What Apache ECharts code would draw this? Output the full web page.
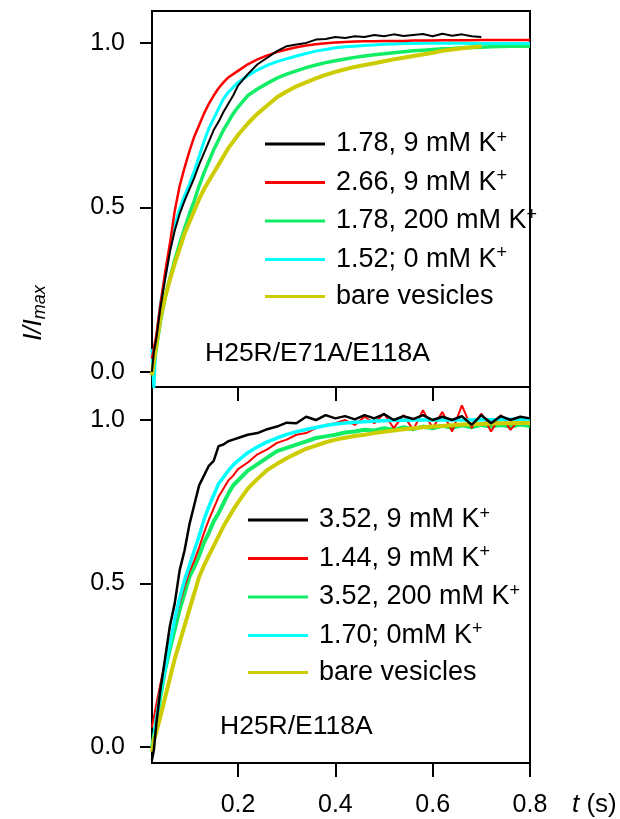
<!DOCTYPE html>
<html>
<head>
<meta charset="utf-8">
<script src="https://cdn.jsdelivr.net/npm/echarts@6/dist/echarts.min.js"></script>
<style>
  html, body { margin: 0; padding: 0; background: #fff; }
  #chart { width: 620px; height: 819px; }
</style>
</head>
<body>
<div id="chart"></div>
<script>
// time grid (s), shared by every trace
const timeS = [0.023, 0.027, 0.032, 0.04, 0.05, 0.06, 0.07, 0.08, 0.09, 0.10,
  0.11, 0.12, 0.13, 0.14, 0.15, 0.16, 0.17, 0.18, 0.19, 0.20,
  0.22, 0.24, 0.26, 0.28, 0.30, 0.32, 0.34, 0.36, 0.38, 0.40,
  0.42, 0.44, 0.46, 0.48, 0.50, 0.52, 0.54, 0.56, 0.58, 0.60,
  0.62, 0.64, 0.66, 0.68, 0.70, 0.72, 0.74, 0.76, 0.78, 0.80];

// top panel: H25R/E71A/E118A
const topBlack = [0.0, 0.06, 0.10, 0.19, 0.28, 0.365, 0.43, 0.48, 0.52, 0.555,
  0.59, 0.63, 0.665, 0.70, 0.735, 0.76, 0.79, 0.815, 0.84, 0.87,
  0.905, 0.935, 0.955, 0.975, 0.99, 0.995, 1.0, 1.01, 1.012, 1.018,
  1.015, 1.02, 1.018, 1.024, 1.02, 1.026, 1.021, 1.024, 1.027, 1.02,
  1.028, 1.022, 1.026, 1.02, 1.018];
const topRed = [0.04, 0.07, 0.11, 0.20, 0.30, 0.39, 0.49, 0.565, 0.62, 0.67,
  0.715, 0.75, 0.785, 0.815, 0.84, 0.862, 0.88, 0.895, 0.905, 0.915,
  0.935, 0.95, 0.962, 0.972, 0.98, 0.987, 0.992, 0.996, 0.999, 1.001,
  1.003, 1.004, 1.005, 1.005, 1.006, 1.006, 1.006, 1.007, 1.007, 1.007,
  1.008, 1.008, 1.008, 1.008, 1.009, 1.009, 1.009, 1.009, 1.009, 1.009];
const topGreen = [-0.01, 0.02, 0.07, 0.15, 0.225, 0.285, 0.34, 0.39, 0.435, 0.48,
  0.52, 0.565, 0.605, 0.64, 0.675, 0.705, 0.735, 0.76, 0.785, 0.805,
  0.84, 0.86, 0.877, 0.893, 0.905, 0.915, 0.925, 0.933, 0.94, 0.946,
  0.951, 0.956, 0.96, 0.964, 0.967, 0.97, 0.973, 0.976, 0.978, 0.98,
  0.982, 0.983, 0.985, 0.986, 0.987, 0.988, 0.989, 0.99, 0.99, 0.99];
const topCyan = [0.07, -0.05, 0.10, 0.20, 0.29, 0.375, 0.445, 0.495, 0.535, 0.57,
  0.61, 0.655, 0.70, 0.74, 0.77, 0.80, 0.83, 0.85, 0.865, 0.88,
  0.90, 0.918, 0.932, 0.943, 0.952, 0.96, 0.968, 0.975, 0.98, 0.985,
  0.988, 0.99, 0.992, 0.994, 0.996, 0.997, 0.998, 0.998, 0.999, 0.999,
  0.999, 0.999, 0.999, 0.998, 0.998, 0.998, 0.998, 0.998, 0.998, 0.998];
const topYellow = [-0.01, 0.03, 0.08, 0.16, 0.225, 0.28, 0.33, 0.375, 0.42, 0.455,
  0.49, 0.525, 0.555, 0.58, 0.605, 0.63, 0.655, 0.68, 0.70, 0.72,
  0.755, 0.785, 0.81, 0.835, 0.852, 0.868, 0.88, 0.892, 0.903, 0.912,
  0.92, 0.927, 0.933, 0.938, 0.944, 0.95, 0.955, 0.96, 0.965, 0.97,
  0.976, 0.98, 0.984, 0.987, 0.99];

// bottom panel: H25R/E118A
const botBlack = [-0.04, -0.01, 0.07, 0.17, 0.27, 0.37, 0.44, 0.54, 0.60, 0.68,
  0.74, 0.80, 0.83, 0.86, 0.875, 0.92, 0.925, 0.935, 0.94, 0.945,
  0.955, 0.96, 0.972, 0.98, 0.992, 0.99, 1.01, 1.0, 1.015, 1.005,
  1.012, 1.002, 1.015, 1.005, 1.018, 1.0, 1.012, 1.003, 1.015, 1.0,
  1.01, 1.0, 1.012, 0.985, 1.015, 0.99, 1.012, 1.0, 1.01, 1.005];
const botRed = [0.06, 0.09, 0.13, 0.19, 0.26, 0.32, 0.38, 0.44, 0.49, 0.535,
  0.57, 0.61, 0.655, 0.695, 0.73, 0.765, 0.79, 0.815, 0.83, 0.85,
  0.87, 0.895, 0.91, 0.93, 0.94, 0.955, 0.96, 0.975, 0.985, 0.99,
  1.0, 0.985, 1.01, 0.99, 1.02, 0.975, 1.015, 0.97, 1.03, 0.975,
  1.025, 0.965, 1.045, 0.975, 1.02, 0.965, 1.015, 0.97, 1.005, 0.985];
const botGreen = [0.0, 0.03, 0.075, 0.15, 0.235, 0.30, 0.36, 0.42, 0.47, 0.52,
  0.55, 0.585, 0.625, 0.655, 0.69, 0.715, 0.745, 0.775, 0.80, 0.815,
  0.845, 0.865, 0.885, 0.905, 0.915, 0.925, 0.935, 0.945, 0.95, 0.955,
  0.962, 0.965, 0.97, 0.968, 0.975, 0.97, 0.978, 0.972, 0.98, 0.975,
  0.982, 0.976, 0.984, 0.978, 0.985, 0.98, 0.985, 0.98, 0.986, 0.982];
const botCyan = [0.0, 0.02, 0.08, 0.16, 0.24, 0.315, 0.39, 0.455, 0.51, 0.555,
  0.60, 0.645, 0.695, 0.735, 0.77, 0.805, 0.825, 0.845, 0.862, 0.876,
  0.90, 0.918, 0.933, 0.945, 0.956, 0.964, 0.971, 0.977, 0.983, 0.988,
  0.991, 0.993, 0.995, 0.997, 0.998, 0.999, 0.999, 1.0, 1.0, 1.0,
  1.0, 1.0, 1.0, 1.0, 1.001, 1.001, 1.001, 1.002, 1.002, 1.003];
const botYellow = [-0.015, 0.02, 0.045, 0.09, 0.15, 0.21, 0.27, 0.32, 0.37, 0.42,
  0.47, 0.52, 0.555, 0.585, 0.615, 0.645, 0.675, 0.70, 0.725, 0.748,
  0.79, 0.82, 0.847, 0.866, 0.883, 0.898, 0.912, 0.922, 0.932, 0.94,
  0.946, 0.951, 0.955, 0.96, 0.964, 0.968, 0.972, 0.975, 0.978, 0.98,
  0.982, 0.984, 0.986, 0.987, 0.988, 0.989, 0.99, 0.99, 0.991, 0.991];

const topNames = ["1.78, 9 mM K+", "2.66, 9 mM K+", "1.78, 200 mM K+", "1.52; 0 mM K+", "bare vesicles"];
const botNames = ["3.52, 9 mM K+", "1.44, 9 mM K+", "3.52, 200 mM K+", "1.70; 0mM K+", "bare vesicles"];
const xTicks = [0.2, 0.4, 0.6, 0.8];
const yTicks = [0, 0.5, 1.0];

const FONT = '"Liberation Sans", Arial, sans-serif';
const BLACK = "#000000", RED = "#ff0000", GREEN = "#11ee66", CYAN = "#00ffff", YELLOW = "#cccc00";

const toPairs = (vals) => vals.map((v, i) => [timeS[i], v]);

const makeLine = (name, vals, color, width, idx) => ({
  name: name,
  type: "line",
  xAxisIndex: idx,
  yAxisIndex: idx,
  data: toPairs(vals),
  showSymbol: false,
  symbol: "none",
  color: color,
  lineStyle: { color: color, width: width },
  emphasis: { disabled: true },
});

const xAxisOf = (idx, showLabel) => ({
  type: "value",
  gridIndex: idx,
  min: 0.0232,
  max: 0.8,
  axisLine: { show: true, onZero: false, lineStyle: { color: "#000", width: 2 } },
  axisTick: { show: true, customValues: xTicks, length: 14, lineStyle: { color: "#000", width: 2 } },
  axisLabel: {
    show: showLabel,
    customValues: xTicks,
    margin: 30,
    fontSize: 25,
    fontFamily: FONT,
    color: "#000",
    formatter: (v) => v.toFixed(1),
  },
  splitLine: { show: false },
});

const yAxisOf = (idx, min, max) => ({
  type: "value",
  gridIndex: idx,
  min: min,
  max: max,
  axisLine: { show: true, onZero: false, lineStyle: { color: "#000", width: 2 } },
  axisTick: { show: true, customValues: yTicks, length: 12, lineStyle: { color: "#000", width: 2 } },
  axisLabel: {
    customValues: yTicks,
    margin: 27,
    fontSize: 25,
    fontFamily: FONT,
    color: "#000",
    formatter: (v) => v.toFixed(1),
  },
  splitLine: { show: false },
});

const legendOf = (names, left, top) => ({
  orient: "vertical",
  left: left,
  top: top,
  data: names,
  icon: "rect",
  itemWidth: 60,
  itemHeight: 3,
  itemGap: 10,
  selectedMode: false,
  formatter: (name) =>
    name.endsWith("+") ? "{a|" + name.slice(0, -1) + "}{s|+}" : "{a|" + name + "}",
  textStyle: {
    padding: [0, 0, 0, 6],
    rich: {
      a: { fontSize: 27, lineHeight: 30, fontFamily: FONT, color: "#000" },
      s: { fontSize: 18, lineHeight: 16, fontFamily: FONT, color: "#000", verticalAlign: "top" },
    },
  },
});

const chart = echarts.init(document.getElementById("chart"));
const option = {
  animation: false,
  backgroundColor: "#fff",
  grid: [
    { left: 152, top: 11, width: 378, height: 376, show: true, borderColor: "#000", borderWidth: 2 },
    { left: 152, top: 387, width: 378, height: 376, show: true, borderColor: "#000", borderWidth: 2 },
  ],
  xAxis: [xAxisOf(0, false), xAxisOf(1, true)],
  yAxis: [yAxisOf(0, -0.046, 1.097), yAxisOf(1, -0.049, 1.101)],
  legend: [legendOf(topNames, 260, 124), legendOf(botNames, 243, 500)],
  series: [
    makeLine(topNames[2], topGreen, GREEN, 3.5, 0),
    makeLine(topNames[3], topCyan, CYAN, 3, 0),
    makeLine(topNames[4], topYellow, YELLOW, 4, 0),
    makeLine(topNames[1], topRed, RED, 2.5, 0),
    makeLine(topNames[0], topBlack, BLACK, 2, 0),
    makeLine(botNames[2], botGreen, GREEN, 4, 1),
    makeLine(botNames[1], botRed, RED, 2, 1),
    makeLine(botNames[3], botCyan, CYAN, 3.5, 1),
    makeLine(botNames[4], botYellow, YELLOW, 4, 1),
    makeLine(botNames[0], botBlack, BLACK, 2.5, 1),
  ],
  graphic: [
    {
      type: "text",
      x: 205,
      y: 354,
      style: { text: "H25R/E71A/E118A", fontSize: 26.5, fontFamily: FONT, fill: "#000", verticalAlign: "middle" },
    },
    {
      type: "text",
      x: 220,
      y: 727,
      style: { text: "H25R/E118A", fontSize: 26.5, fontFamily: FONT, fill: "#000", verticalAlign: "middle" },
    },
    {
      type: "text",
      x: 34,
      y: 313,
      rotation: Math.PI / 2,
      style: {
        text: "{a|I/I}{b|max}",
        align: "center",
        verticalAlign: "middle",
        rich: {
          a: { fontSize: 26, lineHeight: 30, fontStyle: "italic", fontFamily: FONT, fill: "#000" },
          b: { fontSize: 18, lineHeight: 18, fontStyle: "italic", fontFamily: FONT, fill: "#000", verticalAlign: "bottom" },
        },
      },
    },
    {
      type: "text",
      x: 572,
      y: 805,
      style: {
        text: "{i|t}{n| (s)}",
        verticalAlign: "middle",
        rich: {
          i: { fontSize: 26, fontStyle: "italic", fontFamily: FONT, fill: "#000" },
          n: { fontSize: 26, fontFamily: FONT, fill: "#000" },
        },
      },
    },
  ],
};
option && chart.setOption(option);
</script>
</body>
</html>
